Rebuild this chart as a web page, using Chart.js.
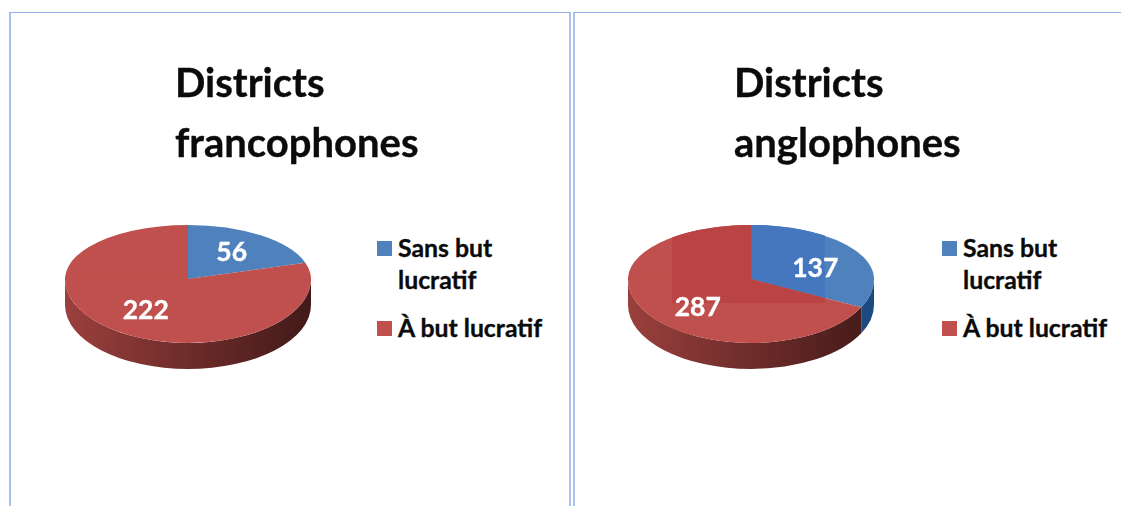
<!DOCTYPE html>
<html lang="fr">
<head>
<meta charset="utf-8">
<title>Districts</title>
<script src="https://cdn.jsdelivr.net/npm/chart.js@4"></script>
<style>
    html, body { margin: 0; background: #fff; overflow: hidden; }
    body { width: 1121px; height: 506px; position: relative; font-family: Lato, "Open Sans", sans-serif; font-weight: 700; color: #0b0b0b; -webkit-text-stroke: 0.35px #0b0b0b; }
    .panel { position: absolute; top: 12px; height: 500px; box-sizing: border-box; border-top: 1px solid #8fb1e8; border-left: 2px solid #a9c3ee; border-right: 2px solid #a9c3ee; }
    #panelA { left: 9px; width: 562px; }
    #panelB { left: 573px; width: 560px; }
    canvas { position: absolute; top: 156px; }
    .title { position: absolute; top: 52px; font-size: 40px; line-height: 60px; }
    .legend { position: absolute; top: 232px; width: 152px; font-size: 24.8px; line-height: 32px; }
    .legend div { position: relative; margin-bottom: 16px; }
    .legend i { position: absolute; left: -21px; top: 9px; width: 15px; height: 15px; }
</style>
</head>
<body>
<div class="panel" id="panelA"></div>
<div class="panel" id="panelB"></div>

<canvas id="pieA" width="246" height="246" style="left:65px"></canvas>
<canvas id="pieB" width="246" height="246" style="left:628px"></canvas>

<div class="title" id="titleA" style="left:175px"></div>
<div class="title" id="titleB" style="left:734px"></div>
<div class="legend" id="legendA" style="left:398px"></div>
<div class="legend" id="legendB" style="left:963px"></div>

<script>
const categories = ["Sans but lucratif", "À but lucratif"];
const francophones = [56, 222];
const anglophones = [137, 287];
const titleFr = ["Districts", "francophones"];
const titleEn = ["Districts", "anglophones"];
const colors = ["#4f81bd", "#c0504d"];
const patchColors = ["#4477be", "#ba4343"];
const sideColors = [
    ["#2f5a8f", "#27548a", "#1c4a80"],
    ["#9a403d", "#6e2c2a", "#421a19"],
];

// the view is tilted, so the far half of the top face is flatter than the near half
const squashFar = 0.44;
const squashNear = 0.52;
const depth = 26;

function tilt(ctx, cx, cy, k) {
    ctx.translate(cx, cy);
    ctx.scale(1, k);
    ctx.translate(-cx, -cy);
}

const pie3d = {
    id: "pie3d",
    beforeDatasetsDraw(chart) {
        const ctx = chart.ctx;
        const arcs = chart.getDatasetMeta(0).data;
        const cx = arcs[0].x, cy = arcs[0].y, r = arcs[0].outerRadius;
        const ry = r * squashNear;
        arcs.forEach((arc, i) => {
            // only the front half of the rim can be seen
            const a = Math.max(arc.startAngle, 0);
            const b = Math.min(arc.endAngle, Math.PI);
            if (b <= a) return;
            const grad = ctx.createLinearGradient(cx + r, 0, cx - r, 0);
            grad.addColorStop(0, sideColors[i][2]);
            grad.addColorStop(0.5, sideColors[i][1]);
            grad.addColorStop(1, sideColors[i][0]);
            ctx.beginPath();
            ctx.ellipse(cx, cy, r, ry, 0, a, b);
            ctx.ellipse(cx, cy + depth, r, ry, 0, b, a, true);
            ctx.closePath();
            ctx.fillStyle = grad;
            ctx.fill();
        });
        // far half is what chart.js draws, near half is added after
        ctx.save();
        ctx.beginPath();
        ctx.rect(0, 0, chart.width, cy + 0.5);
        ctx.clip();
        tilt(ctx, cx, cy, squashFar);
    },
    afterDatasetsDraw(chart, args, opts) {
        const ctx = chart.ctx;
        ctx.restore();
        const arcs = chart.getDatasetMeta(0).data;
        const cx = arcs[0].x, cy = arcs[0].y;

        ctx.save();
        ctx.beginPath();
        ctx.rect(0, cy - 0.5, chart.width, chart.height);
        ctx.clip();
        tilt(ctx, cx, cy, squashNear);
        arcs.forEach((arc) => arc.draw(ctx));
        ctx.restore();

        // slightly stronger block of colour seen on the second pie
        if (opts.patch) {
            const p = opts.patch;
            arcs.forEach((arc, i) => {
                ctx.save();
                ctx.beginPath();
                ctx.rect(p[0], p[1], p[2], p[3]);
                ctx.clip();
                [squashFar, squashNear].forEach((k, n) => {
                    ctx.save();
                    ctx.beginPath();
                    if (n === 0) ctx.rect(0, 0, chart.width, cy + 0.5);
                    else ctx.rect(0, cy - 0.5, chart.width, chart.height);
                    ctx.clip();
                    tilt(ctx, cx, cy, k);
                    ctx.beginPath();
                    ctx.moveTo(cx, cy);
                    ctx.arc(cx, cy, arc.outerRadius, arc.startAngle, arc.endAngle);
                    ctx.closePath();
                    ctx.fillStyle = patchColors[i];
                    ctx.fill();
                    ctx.restore();
                });
                ctx.restore();
            });
        }

        const values = chart.data.datasets[0].data;
        ctx.font = "700 26.5px Lato, sans-serif";
        ctx.fillStyle = "#fff";
        ctx.strokeStyle = "#fff";
        ctx.lineWidth = 0.35;
        ctx.textAlign = "center";
        ctx.textBaseline = "middle";
        arcs.forEach((arc, i) => {
            const mid = (arc.startAngle + arc.endAngle) / 2;
            const d = arc.outerRadius * opts.labelAt[i];
            const sin = Math.sin(mid);
            const k = sin < 0 ? squashFar : squashNear;
            const x = arc.x + d * Math.cos(mid);
            const y = arc.y + d * k * sin + opts.labelDrop[i];
            ctx.fillText(values[i], x, y);
            ctx.strokeText(values[i], x, y);
        });
    },
};

function makePie(id, values, extra) {
    new Chart(document.getElementById(id), {
        type: "pie",
        data: {
            labels: categories,
            datasets: [{ data: values, backgroundColor: colors, borderWidth: 0 }],
        },
        options: {
            responsive: false,
            animation: false,
            layout: { padding: 0 },
            plugins: {
                legend: { display: false },
                tooltip: { enabled: false },
                pie3d: extra,
            },
        },
        plugins: [pie3d],
    });
}

function fillText(titleId, legendId, title) {
    document.getElementById(titleId).innerHTML = title.join("<br>");
    document.getElementById(legendId).innerHTML = categories
        .map((c, i) => `<div><i style="background:${colors[i]}"></i>${c}</div>`)
        .join("");
}

fillText("titleA", "legendA", titleFr);
fillText("titleB", "legendB", titleEn);
makePie("pieA", francophones, { labelAt: [0.6, 0.58], labelDrop: [0, 2] });
makePie("pieB", anglophones, { labelAt: [0.615, 0.51], labelDrop: [7, 11], patch: [44, 69, 153, 78] });
</script>
</body>
</html>
